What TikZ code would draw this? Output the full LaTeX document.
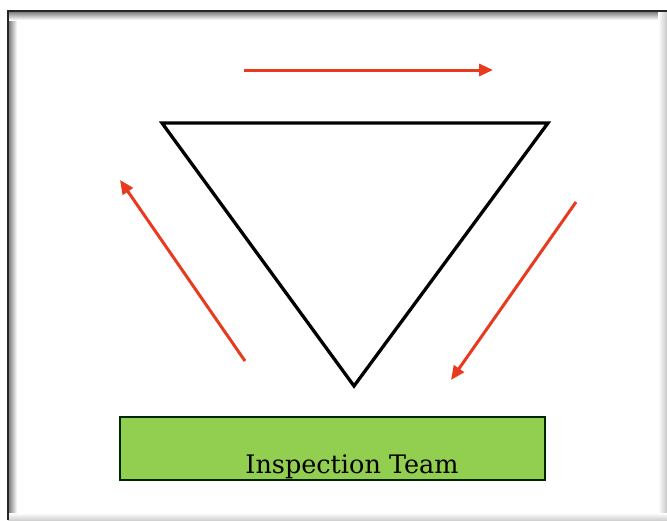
\documentclass[tikz,border=0pt]{standalone}
\usepackage{fontspec}
\newfontfamily\slabfont{DejaVu Serif}
\usetikzlibrary{arrows.meta}
\definecolor{arrowred}{RGB}{232,58,30}
\definecolor{boxgreen}{RGB}{146,206,80}
\tikzset{
  flowarrow/.style={draw=arrowred, line width=3pt, -{Triangle[length=14pt,width=12pt]}},
  tri/.style={draw=black, line width=3.3pt, line join=miter},
  teambox/.style={draw=black!85!green, fill=boxgreen, line width=1.8pt}
}
\begin{document}
\begin{tikzpicture}[x=1pt,y=-1pt]
\useasboundingbox (0,0) rectangle (667,520);
% frame
\fill[white] (0,0) rectangle (667,520);
\shade[left color=black!55, right color=white] (8,11) rectangle (17,520);
\shade[top color=black!55, bottom color=white] (8,11) rectangle (667,20);
\shade[left color=white, right color=black!22] (658,11) rectangle (667,520);
\shade[top color=white, bottom color=black!18] (8,513) rectangle (667,520);
\fill[white] (17,20) rectangle (658,513);
\draw[black!85, line width=1.5pt] (8,520) -- (8,11) -- (667,11);
% triangle
\coordinate (tl) at (162,123);
\coordinate (tr) at (548,123);
\coordinate (bt) at (354,386);
\draw[tri] (tl) -- (tr) -- (bt) -- cycle;
% arrows
\coordinate (a1s) at (244,70);
\coordinate (a1e) at (493,70);
\coordinate (a2s) at (576,202);
\coordinate (a2e) at (451,380);
\coordinate (a3s) at (245,361);
\coordinate (a3e) at (120,180);
\draw[flowarrow] (a1s) -- (a1e);
\draw[flowarrow] (a2s) -- (a2e);
\draw[flowarrow] (a3s) -- (a3e);
% box
\draw[teambox] (120,417) rectangle (545,480);
\node[anchor=base, inner sep=0pt, font=\slabfont\fontsize{25.5}{30}\selectfont] (team) at (352,473) {Inspection Team};
\end{tikzpicture}
\end{document}
